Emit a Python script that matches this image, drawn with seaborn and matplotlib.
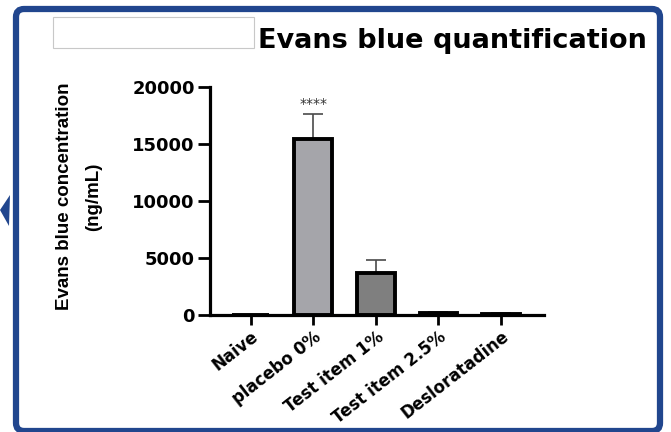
import matplotlib
matplotlib.use('Agg')
import matplotlib.pyplot as plt
import seaborn as sns
import pandas as pd
import numpy as np
from matplotlib.patches import FancyBboxPatch, Rectangle, Polygon

# ---- data ----
categories = ['Naive', 'placebo 0%', 'Test item 1%', 'Test item 2.5%', 'Desloratadine']
means = [20, 15400, 3700, 180, 110]
sd_upper = [10, 2200, 1150, 90, 50]
bar_colors = ['#ffffff', '#a5a5aa', '#7f7f7f', '#6e6e6e', '#6e6e6e']
yticks = [0, 5000, 10000, 15000, 20000]
ytick_labels = ['0', '5000', '10000', '15000', '20000']
title = 'Evans blue quantification'
ylabel = 'Evans blue concentration\n(ng/mL)'
sig_label = '****'

sns.set_style('ticks')
plt.rcParams['font.family'] = ['DejaVu Sans']

W, H = 671, 432
fig = plt.figure(figsize=(W / 100, H / 100), dpi=100)
ax = fig.add_axes([210 / W, 117 / H, (544 - 210) / W, (315 - 87) / H])

df = pd.DataFrame({'group': categories, 'value': means})
sns.barplot(data=df, x='group', y='value', hue='group', palette=bar_colors,
            order=categories, hue_order=categories, width=0.6, saturation=1,
            edgecolor='black', linewidth=2.8, errorbar=None, legend=False, ax=ax,
            zorder=3)

ax.errorbar(np.arange(len(categories)), means,
            yerr=[np.zeros(len(categories)), sd_upper], fmt='none',
            ecolor='#4a4a4a', elinewidth=1.2, capsize=7.2, capthick=1.2, zorder=2)

ax.text(1, 18550, sig_label, ha='center', va='center', fontsize=10, color='#333333')

ax.set_xlim(-0.65, 4.69)
ax.set_ylim(0, 20000)
ax.set_yticks(yticks)
ax.set_yticklabels(ytick_labels, fontweight='bold', fontsize=13)
ax.set_xticks(range(len(categories)))
ax.set_xticklabels(categories, rotation=38, ha='right', va='top',
                   rotation_mode='anchor', fontweight='bold', fontsize=12)
ax.set_xlabel('')
ax.set_ylabel(ylabel, family=['Liberation Sans', 'DejaVu Sans'],
              fontweight='bold', fontsize=13.5, linespacing=1.95, color='black')
ax.yaxis.set_label_coords((79 - 210) / 334, 0.52)
ax.yaxis.label.set_va('center')

sns.despine(ax=ax)
for s in ['left', 'bottom']:
    ax.spines[s].set_linewidth(2.3)
    ax.spines[s].set_color('black')
ax.tick_params(axis='y', length=9, width=2.0, pad=2, colors='black')
ax.tick_params(axis='x', length=7, width=2.0, pad=2, colors='black')

# title and the white box in front of its hidden part
fig.text(647 / W, 1 - 41 / H, title, ha='right', va='center',
         fontsize=19.5, fontweight='bold', color='black')
fig.add_artist(Rectangle((53 / W, 1 - 48 / H), (254 - 53) / W, 31 / H,
                         transform=fig.transFigure, facecolor='white',
                         edgecolor='#c8c8c8', lw=0.8))

# blue slide frame
fig.add_artist(FancyBboxPatch((0.16, 0.01), 6.44, 4.22,
                              boxstyle='round,pad=0,rounding_size=0.08',
                              transform=fig.dpi_scale_trans, fill=False,
                              edgecolor='#21468e', lw=4.5))
fig.add_artist(Polygon([(0.0, 2.22), (0.10, 2.37), (0.09, 2.06)], closed=True,
                       transform=fig.dpi_scale_trans, facecolor='#21468e',
                       edgecolor='none'))

fig.savefig('out.png', dpi=100)
